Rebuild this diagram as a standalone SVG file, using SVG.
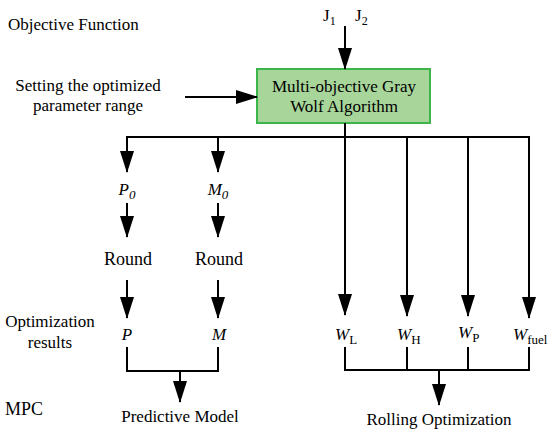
<svg xmlns="http://www.w3.org/2000/svg" width="550" height="434" viewBox="0 0 550 434">
<style>
text{font-family:"Liberation Serif","Times New Roman",serif;font-size:17px;fill:#000}
.c{text-anchor:middle}
.i{font-style:italic}
.ln{stroke:#000;stroke-width:2;fill:none}
.ar{stroke:#000;stroke-width:2;fill:none;marker-end:url(#ah)}
.box{fill:#a8d59a;stroke:#3cb54a;stroke-width:2}
</style>
<defs>
<marker id="ah" markerUnits="userSpaceOnUse" markerWidth="22" markerHeight="14" refX="21" refY="7" orient="auto">
<path d="M0,0 L22,7 L0,14 z" fill="#000"/>
</marker>
</defs>
<g id="labels">
<text x="8" y="30">Objective Function</text>
<text x="88" y="91" class="c">Setting the optimized</text>
<text x="88" y="111" class="c">parameter range</text>
<text x="50" y="327" class="c">Optimization</text>
<text x="50" y="348" class="c">results</text>
<text x="5" y="415" style="font-size:18px">MPC</text>
</g>
<g id="J">
<text x="323" y="21">J<tspan font-size="12" dy="4">1</tspan></text>
<text x="355" y="21">J<tspan font-size="12" dy="4">2</tspan></text>
</g>
<g id="gwo">
<rect class="box" x="257" y="69" width="173" height="54"/>
<text x="344" y="92" class="c">Multi-objective Gray</text>
<text x="344" y="112" class="c">Wolf Algorithm</text>
</g>
<g id="P0"><text x="127" y="195" class="c i">P<tspan font-size="13" dy="4">0</tspan></text></g>
<g id="M0"><text x="218" y="195" class="c i">M<tspan font-size="13" dy="4">0</tspan></text></g>
<g id="round1"><text x="128" y="265" class="c" style="font-size:18px">Round</text></g>
<g id="round2"><text x="219" y="265" class="c" style="font-size:18px">Round</text></g>
<g id="P"><text x="127" y="340" class="c i">P</text></g>
<g id="M"><text x="219" y="340" class="c i">M</text></g>
<g id="WL"><text x="335" y="340"><tspan class="i">W</tspan><tspan font-size="13" dy="4">L</tspan></text></g>
<g id="WH"><text x="397" y="340"><tspan class="i">W</tspan><tspan font-size="13" dy="4">H</tspan></text></g>
<g id="WP"><text x="458" y="338"><tspan class="i">W</tspan><tspan font-size="13" dy="4">P</tspan></text></g>
<g id="Wfuel"><text x="513" y="340"><tspan class="i">W</tspan><tspan font-size="13" dy="4">fuel</tspan></text></g>
<g id="pm"><text x="180" y="422" class="c">Predictive Model</text></g>
<g id="ro"><text x="439" y="425" class="c">Rolling Optimization</text></g>
<g id="connectors">
<line class="ar" x1="345" y1="26" x2="345" y2="69"/>
<line class="ar" x1="185" y1="97" x2="257" y2="97"/>
<line class="ln" x1="345" y1="123" x2="345" y2="137"/>
<line class="ln" x1="126" y1="137" x2="530" y2="137"/>
<line class="ar" x1="127" y1="137" x2="127" y2="172"/>
<line class="ar" x1="218" y1="137" x2="218" y2="172"/>
<line class="ar" x1="127" y1="203" x2="127" y2="237"/>
<line class="ar" x1="218" y1="203" x2="218" y2="237"/>
<line class="ar" x1="127" y1="280" x2="127" y2="318"/>
<line class="ar" x1="218" y1="280" x2="218" y2="318"/>
<path class="ln" d="M127,347 V371 H218 V347"/>
<line class="ar" x1="180" y1="371" x2="180" y2="402"/>
<line class="ar" x1="345" y1="137" x2="345" y2="315"/>
<line class="ar" x1="407" y1="137" x2="407" y2="316"/>
<line class="ar" x1="468" y1="137" x2="468" y2="316"/>
<line class="ar" x1="529" y1="136" x2="529" y2="318"/>
<path class="ln" d="M345,347 V370 H529 V347 M407,347 V370 M468,347 V370"/>
<line class="ar" x1="439" y1="370" x2="439" y2="405"/>
</g>
</svg>
